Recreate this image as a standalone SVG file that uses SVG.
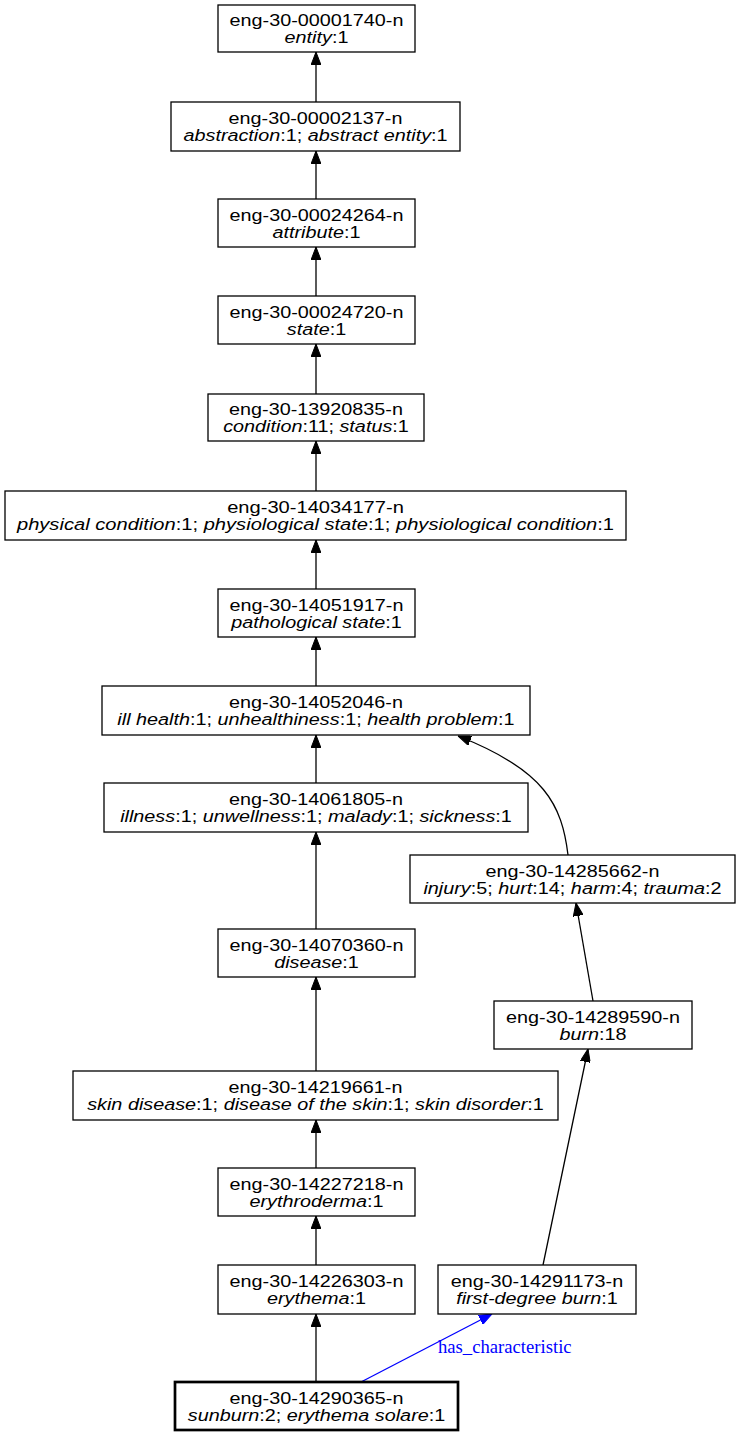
<svg xmlns="http://www.w3.org/2000/svg" width="737" height="1436" viewBox="0 0 737 1436">
<style>
.n rect{fill:#fff;stroke:#000;stroke-width:1.3}
.n.b rect{stroke-width:2.7}
.n text{font-family:"Liberation Sans",Arial,sans-serif;font-size:16.5px;text-anchor:middle;fill:#000}
.n tspan.i{font-style:italic}
.e path{fill:none;stroke:#000;stroke-width:1.3}
.e path.bl{stroke:#00f}
.lbl{font-family:"Liberation Serif","Times New Roman",serif;font-size:18.67px;fill:#00f}
</style>
<defs>
<marker id="ah" viewBox="0 0 13 10" refX="13" refY="5" markerWidth="13" markerHeight="10" markerUnits="userSpaceOnUse" orient="auto"><path d="M0,0L13,5L0,10z" fill="#000" stroke="#000" stroke-width="1"/></marker>
<marker id="ahb" viewBox="0 0 13 10" refX="13" refY="5" markerWidth="13" markerHeight="10" markerUnits="userSpaceOnUse" orient="auto"><path d="M0,0L13,5L0,10z" fill="#00f" stroke="#00f" stroke-width="1"/></marker>
</defs>
<g id="edges" class="e">
<path d="M316,102V52" marker-end="url(#ah)"/>
<path d="M316,199V151" marker-end="url(#ah)"/>
<path d="M316,296V247" marker-end="url(#ah)"/>
<path d="M316,394V344" marker-end="url(#ah)"/>
<path d="M316,491V441" marker-end="url(#ah)"/>
<path d="M316,589V540" marker-end="url(#ah)"/>
<path d="M316,686V637" marker-end="url(#ah)"/>
<path d="M316,783V735" marker-end="url(#ah)"/>
<path d="M316,929V832" marker-end="url(#ah)"/>
<path d="M316,1071V977" marker-end="url(#ah)"/>
<path d="M316,1168V1120" marker-end="url(#ah)"/>
<path d="M316,1265V1216" marker-end="url(#ah)"/>
<path d="M316,1382V1314" marker-end="url(#ah)"/>
<path d="M568,855C562,805 545,770 458,736" marker-end="url(#ah)"/>
<path d="M593,1001L576,903" marker-end="url(#ah)"/>
<path d="M543,1265L588,1049" marker-end="url(#ah)"/>
<path class="bl" d="M361,1382L492,1314" marker-end="url(#ahb)"/>
<text class="lbl" x="438" y="1353">has_characteristic</text>
</g>
<g id="n1" class="n"><rect x="218" y="5" width="197" height="47"/><g transform="translate(316.5,0) scale(1.2,1)"><text x="0" y="26">eng-30-00001740-n</text><text x="0" y="43"><tspan class="i">entity</tspan>:1</text></g></g>
<g id="n2" class="n"><rect x="171" y="102" width="289" height="49"/><g transform="translate(315.5,0) scale(1.2,1)"><text x="0" y="124">eng-30-00002137-n</text><text x="0" y="141"><tspan class="i">abstraction</tspan>:1; <tspan class="i">abstract entity</tspan>:1</text></g></g>
<g id="n3" class="n"><rect x="218" y="199" width="197" height="48"/><g transform="translate(316.5,0) scale(1.2,1)"><text x="0" y="221">eng-30-00024264-n</text><text x="0" y="238"><tspan class="i">attribute</tspan>:1</text></g></g>
<g id="n4" class="n"><rect x="218" y="296" width="197" height="48"/><g transform="translate(316.5,0) scale(1.2,1)"><text x="0" y="318">eng-30-00024720-n</text><text x="0" y="335"><tspan class="i">state</tspan>:1</text></g></g>
<g id="n5" class="n"><rect x="208" y="394" width="216" height="47"/><g transform="translate(316,0) scale(1.2,1)"><text x="0" y="415.5">eng-30-13920835-n</text><text x="0" y="432.5"><tspan class="i">condition</tspan>:11; <tspan class="i">status</tspan>:1</text></g></g>
<g id="n6" class="n"><rect x="5" y="491" width="621" height="49"/><g transform="translate(315.5,0) scale(1.22,1)"><text x="0" y="513">eng-30-14034177-n</text><text x="0" y="530"><tspan class="i">physical condition</tspan>:1; <tspan class="i">physiological state</tspan>:1; <tspan class="i">physiological condition</tspan>:1</text></g></g>
<g id="n7" class="n"><rect x="218" y="589" width="197" height="48"/><g transform="translate(316.5,0) scale(1.2,1)"><text x="0" y="611">eng-30-14051917-n</text><text x="0" y="628"><tspan class="i">pathological state</tspan>:1</text></g></g>
<g id="n8" class="n"><rect x="102" y="686" width="428" height="49"/><g transform="translate(316,0) scale(1.2,1)"><text x="0" y="708">eng-30-14052046-n</text><text x="0" y="725"><tspan class="i">ill health</tspan>:1; <tspan class="i">unhealthiness</tspan>:1; <tspan class="i">health problem</tspan>:1</text></g></g>
<g id="n9" class="n"><rect x="104" y="783" width="424" height="49"/><g transform="translate(316,0) scale(1.2,1)"><text x="0" y="805">eng-30-14061805-n</text><text x="0" y="822"><tspan class="i">illness</tspan>:1; <tspan class="i">unwellness</tspan>:1; <tspan class="i">malady</tspan>:1; <tspan class="i">sickness</tspan>:1</text></g></g>
<g id="n10" class="n"><rect x="218" y="929" width="197" height="48"/><g transform="translate(316.5,0) scale(1.2,1)"><text x="0" y="951">eng-30-14070360-n</text><text x="0" y="968"><tspan class="i">disease</tspan>:1</text></g></g>
<g id="n11" class="n"><rect x="73" y="1071" width="485" height="49"/><g transform="translate(315.5,0) scale(1.2,1)"><text x="0" y="1093">eng-30-14219661-n</text><text x="0" y="1110"><tspan class="i">skin disease</tspan>:1; <tspan class="i">disease of the skin</tspan>:1; <tspan class="i">skin disorder</tspan>:1</text></g></g>
<g id="n12" class="n"><rect x="218" y="1168" width="197" height="48"/><g transform="translate(316.5,0) scale(1.2,1)"><text x="0" y="1190">eng-30-14227218-n</text><text x="0" y="1207"><tspan class="i">erythroderma</tspan>:1</text></g></g>
<g id="n13" class="n"><rect x="218" y="1265" width="197" height="49"/><g transform="translate(316.5,0) scale(1.2,1)"><text x="0" y="1287">eng-30-14226303-n</text><text x="0" y="1304"><tspan class="i">erythema</tspan>:1</text></g></g>
<g id="n14" class="n b"><rect x="175" y="1382" width="283" height="48"/><g transform="translate(316.5,0) scale(1.2,1)"><text x="0" y="1404">eng-30-14290365-n</text><text x="0" y="1421"><tspan class="i">sunburn</tspan>:2; <tspan class="i">erythema solare</tspan>:1</text></g></g>
<g id="n15" class="n"><rect x="410" y="855" width="325" height="48"/><g transform="translate(572.5,0) scale(1.2,1)"><text x="0" y="877">eng-30-14285662-n</text><text x="0" y="894"><tspan class="i">injury</tspan>:5; <tspan class="i">hurt</tspan>:14; <tspan class="i">harm</tspan>:4; <tspan class="i">trauma</tspan>:2</text></g></g>
<g id="n16" class="n"><rect x="494" y="1001" width="198" height="48"/><g transform="translate(593,0) scale(1.2,1)"><text x="0" y="1023">eng-30-14289590-n</text><text x="0" y="1040"><tspan class="i">burn</tspan>:18</text></g></g>
<g id="n17" class="n"><rect x="438" y="1265" width="198" height="49"/><g transform="translate(537,0) scale(1.2,1)"><text x="0" y="1287">eng-30-14291173-n</text><text x="0" y="1304"><tspan class="i">first-degree burn</tspan>:1</text></g></g>
</svg>
